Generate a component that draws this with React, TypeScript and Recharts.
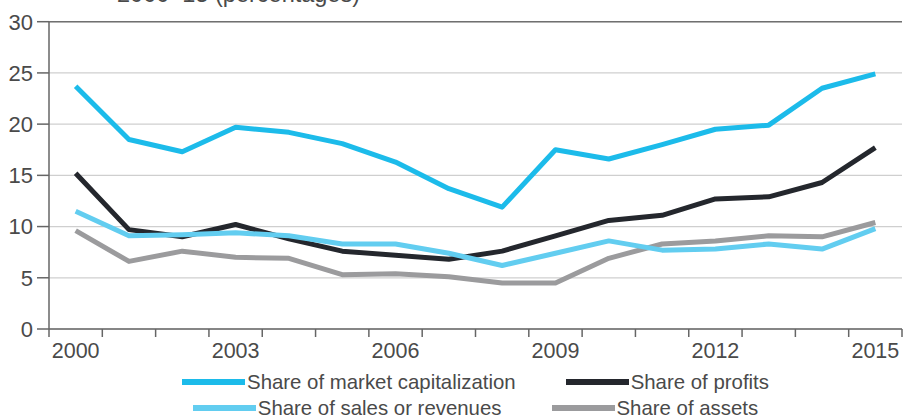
import { LineChart, Line, XAxis, YAxis, CartesianGrid, ReferenceLine } from 'recharts';

const years = [2000, 2001, 2002, 2003, 2004, 2005, 2006, 2007, 2008, 2009, 2010, 2011, 2012, 2013, 2014, 2015];
const marketCap = [23.7, 18.5, 17.3, 19.7, 19.2, 18.1, 16.3, 13.7, 11.9, 17.5, 16.6, 18.0, 19.5, 19.9, 23.5, 24.9];
const profits = [15.2, 9.7, 9.0, 10.2, 8.8, 7.6, 7.2, 6.8, 7.6, 9.1, 10.6, 11.1, 12.7, 12.9, 14.3, 17.7];
const sales = [11.5, 9.1, 9.2, 9.4, 9.1, 8.3, 8.3, 7.4, 6.2, 7.4, 8.6, 7.7, 7.8, 8.3, 7.8, 9.8];
const assets = [9.6, 6.6, 7.6, 7.0, 6.9, 5.3, 5.4, 5.1, 4.5, 4.5, 6.9, 8.3, 8.6, 9.1, 9.0, 10.4];

const yTicks = [0, 5, 10, 15, 20, 25, 30];
const xLabels = [2000, 2003, 2006, 2009, 2012, 2015];
const xBoundaries = [...years.map((y) => y - 0.5), 2015.5];

const series = [
  { key: 'assets', name: 'Share of assets', color: '#9b9b9d' },
  { key: 'profits', name: 'Share of profits', color: '#24272d' },
  { key: 'sales', name: 'Share of sales or revenues', color: '#62cdf0' },
  { key: 'marketCap', name: 'Share of market capitalization', color: '#1cbbea' },
];

const legendRows = [
  ['marketCap', 'profits'],
  ['sales', 'assets'],
];

const data = years.map((year, i) => ({
  year,
  marketCap: marketCap[i],
  profits: profits[i],
  sales: sales[i],
  assets: assets[i],
}));

const FONT = '"Liberation Sans", Arial, sans-serif';
const TEXT = '#4a4a4a';

function XTick({ x, y, payload }: any) {
  const v = payload.value;
  if (Number.isInteger(v)) {
    return (
      <text x={x} y={y + 29} textAnchor="middle" fontSize={21.5} fill={TEXT} fontFamily={FONT}>
        {v}
      </text>
    );
  }
  return <line x1={x} y1={y} x2={x} y2={y + 8} stroke="#666" strokeWidth={1.5} />;
}

export default function App() {
  return (
    <div style={{ position: 'absolute', left: 0, top: 0, width: 903, height: 416, overflow: 'hidden', background: '#fff' }}>
      <div
        style={{
          position: 'absolute',
          left: 117,
          top: -18,
          fontSize: 23.5,
          lineHeight: '24px',
          color: TEXT,
          fontFamily: FONT,
          whiteSpace: 'nowrap',
        }}
      >
        2000–15 (percentages)
      </div>
      <LineChart width={903} height={416} data={data} margin={{ top: 21.7, right: 1, left: 0, bottom: 47 }}>
        <CartesianGrid vertical={false} stroke="#cfcfcf" strokeWidth={1.2} />
        <ReferenceLine y={30} stroke="#707070" strokeWidth={1.5} />
        <XAxis
          dataKey="year"
          type="number"
          domain={[1999.5, 2015.5]}
          ticks={[...xBoundaries, ...xLabels].sort((a, b) => a - b)}
          interval={0}
          tickLine={false}
          tickSize={0}
          tickMargin={0}
          height={40}
          axisLine={{ stroke: '#666', strokeWidth: 1.5 }}
          tick={<XTick />}
        />
        <YAxis
          domain={[0, 30]}
          ticks={yTicks}
          interval={0}
          width={49}
          tickSize={12}
          tickMargin={4}
          axisLine={{ stroke: '#666', strokeWidth: 1.5 }}
          tickLine={{ stroke: '#666', strokeWidth: 1.5 }}
          tick={{ fontSize: 22, fill: TEXT, fontFamily: FONT }}
        />
        {series.map((s) => (
          <Line
            key={s.key}
            dataKey={s.key}
            name={s.name}
            type="linear"
            stroke={s.color}
            strokeWidth={5}
            dot={false}
            strokeLinejoin="round"
            isAnimationActive={false}
          />
        ))}
      </LineChart>
      <div style={{ position: 'absolute', left: 49, top: 369, width: 853, fontFamily: FONT, fontSize: 20.4, color: TEXT }}>
        {legendRows.map((row, r) => (
          <div key={r} style={{ display: 'flex', justifyContent: 'center', gap: 50, height: 26, alignItems: 'center' }}>
            {row.map((k) => {
              const s = series.find((x) => x.key === k)!;
              return (
                <div key={k} style={{ display: 'flex', alignItems: 'center', whiteSpace: 'nowrap' }}>
                  <span style={{ display: 'inline-block', width: 63, height: 6, background: s.color, marginRight: 2 }} />
                  <span>{s.name}</span>
                </div>
              );
            })}
          </div>
        ))}
      </div>
    </div>
  );
}
